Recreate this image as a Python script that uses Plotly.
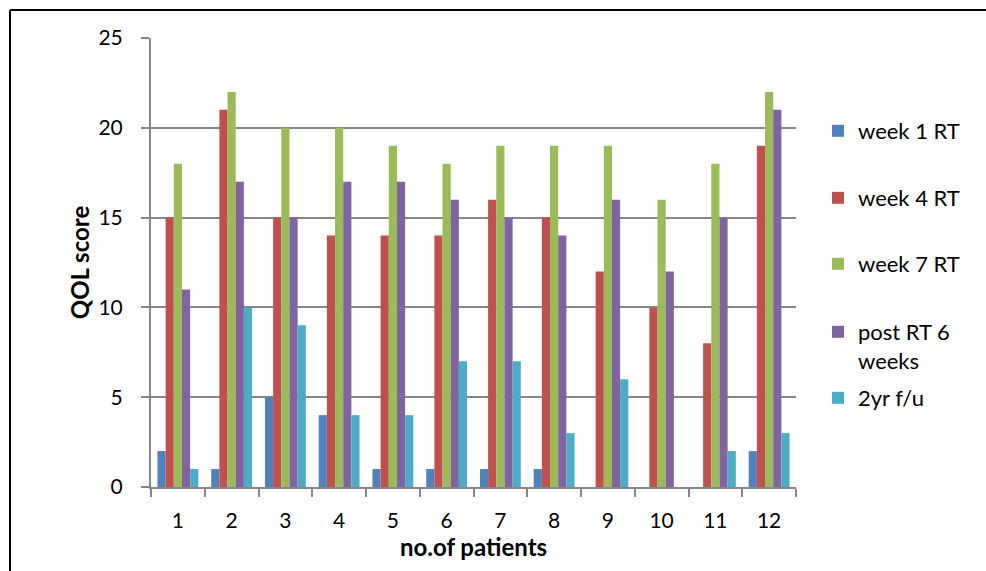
import plotly.graph_objects as go

patients = ["1", "2", "3", "4", "5", "6", "7", "8", "9", "10", "11", "12"]
week1_rt = [2, 1, 5, 4, 1, 1, 1, 1, 0, 0, 0, 2]
week4_rt = [15, 21, 15, 14, 14, 14, 16, 15, 12, 10, 8, 19]
week7_rt = [18, 22, 20, 20, 19, 18, 19, 19, 19, 16, 18, 22]
post_rt_6w = [11, 17, 15, 17, 17, 16, 15, 14, 16, 12, 15, 21]
yr2_fu = [1, 10, 9, 4, 4, 7, 7, 3, 6, 0, 2, 3]

series_names = ["week 1 RT", "week 4 RT", "week 7 RT", "post RT 6<br>weeks", "2yr f/u"]
series_values = [week1_rt, week4_rt, week7_rt, post_rt_6w, yr2_fu]
colors = ["#4F81BD", "#C0504D", "#9BBB59", "#8064A2", "#4BACC6"]
legend_ids = ["legend", "legend2", "legend3", "legend4", "legend5"]

FONT = "Lato"

# plot area in pixels
L, R, T, B = 151, 190, 38, 84
W, H = 986, 571
pw = W - L - R
ph = H - T - B

def px_x(x):
    return (x - L) / pw

def px_y(y):
    return (H - B - y) / ph

fig = go.Figure()
for name, vals, c, lg in zip(series_names, series_values, colors, legend_ids):
    fig.add_trace(go.Bar(
        x=patients, y=vals, name=name, legend=lg, showlegend=True,
        marker=dict(color=c, line=dict(width=0)),
    ))

legend_y_px = [131, 198, 264, 332, 398]
legends = {}
for lg, ypx in zip(legend_ids, legend_y_px):
    legends[lg] = dict(
        x=px_x(818), xanchor="left",
        y=px_y(ypx), yanchor="middle",
        font=dict(family=FONT, size=22, color="#000000"),
        bgcolor="rgba(0,0,0,0)", borderwidth=0,
        valign="top", itemwidth=30, visible=True,
    )
legends["legend4"]["yanchor"] = "top"
legends["legend4"]["y"] = px_y(332 - 21)

fig.update_layout(
    width=W, height=H,
    margin=dict(l=L, r=R, t=T, b=B, pad=0),
    paper_bgcolor="white", plot_bgcolor="white",
    barmode="group", bargap=0.24, bargroupgap=0,
    showlegend=True,
    font=dict(family=FONT, size=21, color="#000000"),
    **legends,
    xaxis=dict(
        type="category",
        showline=True, linecolor="#868686", linewidth=2,
        ticks="outside", ticklen=8, tickcolor="#868686", tickwidth=2,
        tickson="boundaries",
        showgrid=False,
        tickfont=dict(family=FONT, size=21),
        ticklabelstandoff=14,
        title=dict(text="<b>no.of patients</b>", font=dict(family=FONT, size=24), standoff=6),
    ),
    yaxis=dict(
        range=[0, 25], dtick=5,
        showline=True, linecolor="#868686", linewidth=2,
        ticks="outside", ticklen=8, tickcolor="#868686", tickwidth=2,
        showgrid=True, gridcolor="#868686", gridwidth=2,
        zeroline=False,
        tickfont=dict(family=FONT, size=21),
        ticklabelstandoff=14,
        title=dict(text="<b>QOL score</b>", font=dict(family=FONT, size=24), standoff=2),
    ),
    shapes=[
        dict(type="line", xref="paper", yref="paper",
             x0=px_x(10), x1=px_x(1000), y0=px_y(10), y1=px_y(10),
             line=dict(color="#000000", width=2)),
        dict(type="line", xref="paper", yref="paper",
             x0=px_x(10), x1=px_x(10), y0=px_y(10), y1=px_y(580),
             line=dict(color="#000000", width=2)),
    ],
)

fig.write_html("out.html")
